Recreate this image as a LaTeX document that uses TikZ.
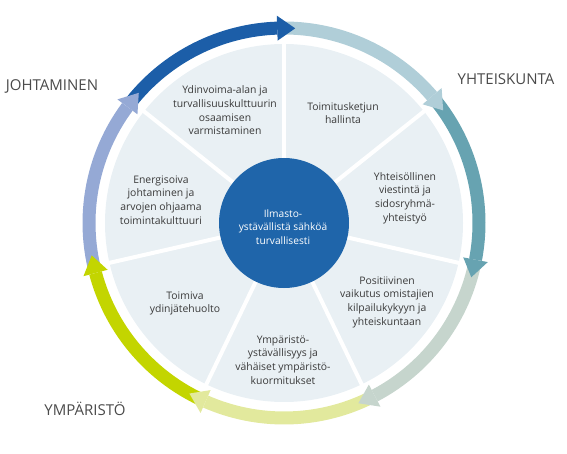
\documentclass[tikz,border=0pt]{standalone}
\usepackage{fontspec}
\setmainfont{Open Sans}
\usetikzlibrary{calc}
\definecolor{segfill}{HTML}{E9F0F4}
\definecolor{centerblue}{HTML}{1F65AA}
\definecolor{arcA}{HTML}{B0CED8}
\definecolor{arcB}{HTML}{67A3B1}
\definecolor{arcC}{HTML}{C6D5CD}
\definecolor{arcD}{HTML}{E2E99D}
\definecolor{arcE}{HTML}{C3D500}
\definecolor{arcF}{HTML}{95A9D5}
\definecolor{arcG}{HTML}{1C5EA8}
\definecolor{txtgray}{HTML}{3A3A3A}
\definecolor{titlegray}{HTML}{4A4A4A}
\begin{document}
\begin{tikzpicture}[x=1pt,y=1pt,
  seglabel/.style={font=\fontsize{10.4}{13.7}\selectfont, text=txtgray, align=center, inner sep=0pt},
  centerlabel/.style={font=\fontsize{10.2}{13.7}\selectfont, text=white, align=center, inner sep=0pt},
  titlelabel/.style={font=\fontsize{15}{18}\selectfont, text=titlegray, inner sep=0pt},
  band/.style={line width=13pt}]
\useasboundingbox (0,0) rectangle (567,453);
\coordinate (c) at (284,230);
% segments
\fill[segfill] (c) circle[radius=179];
\foreach \a in {0,...,6} \draw[white, line width=4pt] (c) -- ++({90-\a*360/7}:181);
\fill[centerblue] (c) circle[radius=65];
% ring bands
\foreach \s/\col in {0/arcA,1/arcB,2/arcC,3/arcD,4/arcE,5/arcF,6/arcG} {
  \pgfmathsetmacro\st{90-\s*360/7}
  \pgfmathsetmacro\en{90-(\s+1)*360/7+2}
  \draw[band, \col] ($(c)+(\st:195)$) arc[start angle=\st, end angle=\en, radius=195];
}
% arrowheads
\foreach \s/\col in {0/arcA,1/arcB,2/arcC,3/arcD,4/arcE,5/arcF,6/arcG} {
  \pgfmathsetmacro\b{90-(\s+1)*360/7}
  \fill[\col] ($(c)+({\b+2}:182.5)$) -- ($(c)+({\b-3.3}:195)$) -- ($(c)+({\b+2}:207.5)$) -- cycle;
}
% titles
\node[titlelabel] (t1) at (52,367) {JOHTAMINEN};
\node[titlelabel] (t2) at (506,374) {YHTEISKUNTA};
\node[titlelabel] (t3) at (85,44.5) {YMPÄRISTÖ};
% segment labels
\node[seglabel] (s1) at (225,342.5) {Ydinvoima-alan ja\\turvallisuuskulttuurin\\osaamisen\\varmistaminen};
\node[seglabel] (s2) at (343,340) {Toimitusketjun\\hallinta};
\node[seglabel] (s3) at (405,255) {Yhteisöllinen\\viestintä ja\\sidosryhmä-\\yhteistyö};
\node[seglabel] (s4) at (387,151) {Positiivinen\\vaikutus omistajien\\kilpailukykyyn ja\\yhteiskuntaan};
\node[seglabel] (s5) at (283,93) {Ympäristö-\\ystävällisyys ja\\vähäiset ympäristö-\\kuormitukset};
\node[seglabel] (s6) at (185,149.5) {Toimiva\\ydinjätehuolto};
\node[seglabel] (s7) at (161,253) {Energisoiva\\johtaminen ja\\arvojen ohjaama\\toimintakulttuuri};
\node[centerlabel] (m) at (283,226) {Ilmasto-\\ystävällistä sähköä\\turvallisesti};
\end{tikzpicture}
\end{document}
